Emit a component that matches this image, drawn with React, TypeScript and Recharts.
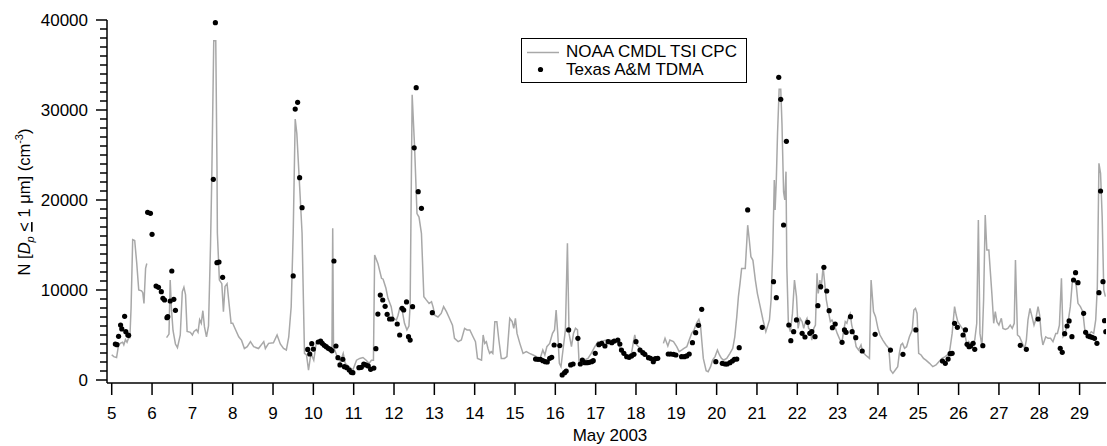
import React from "react";
import { ComposedChart, Line, Scatter, XAxis, YAxis } from "recharts";

const FONT = "'Liberation Sans', Arial, Helvetica, sans-serif";

// NOAA CMDL TSI CPC: [day of May 2003, N (cm^-3)] in three continuous segments
const cpcSeg1: number[][] = [
  [5.0, 2800], [5.05, 2600], [5.12, 2500], [5.17, 3900], [5.22, 4100], [5.27, 4200], [5.3, 3900],
  [5.34, 4500], [5.38, 4200], [5.42, 4700], [5.45, 4700], [5.48, 8000], [5.52, 15600], [5.57, 15500],
  [5.62, 13000], [5.67, 10000], [5.74, 9900], [5.77, 9700], [5.8, 8500], [5.84, 12400], [5.87, 12950],
];
const cpcSeg2: number[][] = [
  [6.36, 4700], [6.42, 5100], [6.45, 11100], [6.48, 8000], [6.52, 5500], [6.58, 4000], [6.63, 3600],
  [6.7, 5000], [6.75, 9800], [6.79, 10300], [6.83, 9500], [6.87, 5400], [6.95, 5300], [7.0, 5000],
  [7.04, 5400], [7.1, 5600], [7.14, 5300], [7.18, 6700], [7.22, 6300], [7.26, 7700], [7.3, 5900],
  [7.35, 4800], [7.4, 6000], [7.45, 15000], [7.48, 22200], [7.53, 37700], [7.58, 37700], [7.61, 23700],
  [7.62, 16300], [7.67, 11100], [7.73, 10700], [7.77, 7600], [7.81, 10400], [7.86, 10700], [7.9, 8900],
  [7.96, 6300], [8.0, 6300], [8.06, 5700], [8.15, 4800], [8.22, 4400], [8.29, 3500], [8.36, 3700],
  [8.44, 4260], [8.52, 3700], [8.64, 3500], [8.77, 4260], [8.81, 3500], [8.89, 4070], [9.01, 4140],
  [9.1, 5000], [9.18, 4000], [9.26, 3500], [9.33, 3330], [9.39, 4800], [9.45, 8140], [9.5, 16300],
  [9.55, 29000], [9.59, 27400], [9.66, 21500], [9.72, 16300], [9.78, 2960], [9.83, 2800], [9.88, 1100],
  [9.94, 2960], [10.01, 2200], [10.07, 4070], [10.13, 4260], [10.21, 4070], [10.3, 3700], [10.42, 3330],
  [10.46, 2960], [10.48, 16850], [10.5, 3700], [10.59, 2600], [10.67, 2040], [10.74, 2960], [10.79, 1850],
  [10.88, 1480], [10.98, 1100], [11.07, 2200], [11.15, 2400], [11.23, 2500], [11.31, 2200], [11.38, 1850],
  [11.44, 2200], [11.49, 2200], [11.52, 13900], [11.6, 12960], [11.69, 11300], [11.73, 11200], [11.8, 10190],
  [11.85, 9070], [11.93, 8150], [11.98, 6850], [12.06, 6670], [12.1, 7200], [12.14, 7960], [12.2, 7800],
  [12.26, 6300], [12.32, 5560], [12.37, 6000], [12.4, 8300], [12.45, 31700], [12.51, 25900], [12.57, 18500],
  [12.62, 18100], [12.68, 16300], [12.74, 9260], [12.8, 8900], [12.87, 8500], [12.93, 8700], [12.97, 8100],
  [13.01, 7200], [13.09, 7000], [13.17, 7400], [13.23, 8150], [13.3, 7600], [13.36, 7000], [13.45, 6100],
  [13.5, 4630], [13.59, 4260], [13.67, 4440], [13.75, 5740], [13.81, 5560], [13.88, 5560], [13.96, 4800],
  [14.02, 4260], [14.07, 2400], [14.17, 2200], [14.21, 5000], [14.25, 4070], [14.29, 4260], [14.33, 3500],
  [14.37, 2960], [14.41, 3150], [14.45, 2960], [14.5, 6480], [14.55, 6480], [14.6, 4440], [14.66, 2400],
  [14.74, 2400], [14.8, 2600], [14.87, 6850], [14.93, 6480], [14.97, 5740], [15.01, 6850], [15.05, 5180],
  [15.12, 4070], [15.2, 2960], [15.28, 3150], [15.36, 2960], [15.45, 2780], [15.53, 2600], [15.61, 2220],
  [15.69, 3330], [15.74, 2780], [15.79, 3700], [15.86, 4070], [15.93, 5180], [15.98, 5560], [16.02, 7780],
  [16.06, 5180], [16.1, 1850], [16.14, 1480], [16.19, 3330], [16.25, 5560], [16.3, 15190], [16.34, 5180],
  [16.4, 3700], [16.45, 5180], [16.5, 5740], [16.55, 5560], [16.59, 1850], [16.64, 2220], [16.73, 2220],
  [16.81, 2400], [16.89, 2960], [16.98, 3700], [17.06, 4260], [17.11, 4260], [17.27, 4440], [17.44, 4440],
  [17.56, 4070], [17.64, 3150], [17.77, 2600], [17.89, 2960], [17.93, 4070], [17.97, 5000], [18.02, 3890],
  [18.1, 3520], [18.18, 2960], [18.26, 2780], [18.35, 2600], [18.43, 2400], [18.51, 2400], [18.58, 2400],
];
const cpcSeg3: number[][] = [
  [18.68, 4070], [18.72, 4630], [18.79, 3780], [18.84, 4440], [18.93, 4260], [19.01, 3700], [19.07, 3150],
  [19.13, 3330], [19.19, 3520], [19.26, 3700], [19.32, 4440], [19.38, 5180], [19.44, 5560], [19.5, 6300],
  [19.56, 6740], [19.6, 6110], [19.63, 4440], [19.67, 2400], [19.74, 1040], [19.79, 930], [19.85, 1480],
  [19.9, 2220], [19.96, 2600], [20.02, 3330], [20.07, 2780], [20.12, 2400], [20.18, 2220], [20.25, 2400],
  [20.33, 2960], [20.4, 3520], [20.45, 4800], [20.5, 7040], [20.54, 9260], [20.58, 10740], [20.62, 12400],
  [20.66, 12400], [20.71, 12400], [20.75, 15560], [20.77, 17200], [20.81, 15560], [20.85, 13700], [20.9, 13300],
  [20.96, 11100], [21.01, 9630], [21.08, 8150], [21.15, 6670], [21.22, 5370], [21.26, 5930], [21.31, 6670],
  [21.35, 8890], [21.39, 14070], [21.43, 22220], [21.45, 18900], [21.48, 22220], [21.51, 27400], [21.55, 32300],
  [21.59, 32300], [21.62, 28500], [21.66, 20900], [21.69, 20000], [21.72, 23150], [21.74, 12600], [21.78, 6100],
  [21.83, 5370], [21.88, 7400], [21.93, 11100], [21.98, 9260], [22.02, 5740], [22.07, 6850], [22.12, 6480],
  [22.16, 5740], [22.2, 6480], [22.24, 6850], [22.28, 5740], [22.32, 5560], [22.36, 4440], [22.41, 5740],
  [22.45, 6100], [22.49, 11850], [22.52, 9630], [22.56, 11100], [22.59, 10000], [22.64, 12600], [22.68, 10740],
  [22.72, 8890], [22.78, 7400], [22.82, 6480], [22.86, 6670], [22.92, 6100], [22.99, 5180], [23.06, 4440],
  [23.11, 4260], [23.14, 5180], [23.19, 6480], [23.23, 6300], [23.27, 7040], [23.31, 7400], [23.35, 6100],
  [23.4, 5180], [23.46, 3700], [23.52, 3330], [23.58, 3890], [23.62, 3150], [23.69, 2780], [23.79, 2400],
  [23.83, 11100], [23.89, 7600], [23.94, 7040], [24.0, 5740], [24.05, 5000], [24.12, 4440], [24.2, 3890],
  [24.27, 3520], [24.31, 1110], [24.37, 740], [24.43, 1110], [24.49, 1480], [24.53, 2960], [24.57, 3900],
  [24.61, 4070], [24.66, 3520], [24.71, 3700], [24.78, 4800], [24.85, 5560], [24.89, 7780], [24.93, 7960],
  [24.97, 7400], [25.01, 2960], [25.07, 2780], [25.13, 2400], [25.19, 2200], [25.28, 1850], [25.36, 1480],
  [25.44, 1670], [25.51, 2040], [25.59, 2400], [25.67, 2600], [25.77, 2960], [25.84, 5180], [25.9, 8150],
  [25.94, 7220], [25.98, 6480], [26.06, 5930], [26.12, 5560], [26.17, 4800], [26.21, 3700], [26.25, 4260],
  [26.29, 4070], [26.35, 4070], [26.4, 4440], [26.45, 6300], [26.49, 17780], [26.53, 5180], [26.58, 3700],
  [26.62, 8890], [26.66, 18330], [26.7, 14440], [26.75, 14440], [26.79, 11850], [26.83, 9260], [26.87, 6300],
  [26.91, 7600], [26.95, 6480], [27.0, 6100], [27.06, 6850], [27.1, 5740], [27.16, 5630], [27.22, 5740],
  [27.28, 6100], [27.33, 5740], [27.38, 6300], [27.41, 13330], [27.46, 5000], [27.51, 4800], [27.58, 4070],
  [27.64, 3520], [27.68, 4440], [27.72, 6670], [27.77, 7960], [27.82, 7040], [27.87, 6100], [27.91, 6670],
  [27.97, 8150], [28.01, 7220], [28.05, 5000], [28.09, 3900], [28.16, 4800], [28.22, 4630], [28.28, 4630],
  [28.34, 4260], [28.41, 5180], [28.45, 5180], [28.5, 6100], [28.55, 11300], [28.59, 4800], [28.63, 5000],
  [28.67, 5740], [28.71, 6300], [28.77, 8150], [28.82, 10930], [28.88, 11100], [28.92, 10370], [28.96, 8520],
  [29.02, 8150], [29.08, 7600], [29.13, 5560], [29.17, 5180], [29.23, 5000], [29.29, 5370], [29.35, 5180],
  [29.4, 6670], [29.44, 10370], [29.48, 24070], [29.52, 22960], [29.56, 18150], [29.6, 10000], [29.64, 9260],
];

// Texas A&M TDMA: [day of May 2003, N (cm^-3)]
const tdmaPoints: number[][] = [
  [5.09, 4000], [5.13, 3930], [5.17, 4850], [5.22, 6110], [5.25, 5670], [5.32, 7070], [5.35, 5370],
  [5.4, 5000], [5.42, 4960], [5.89, 18630], [5.96, 18520], [6.0, 16190], [6.1, 10440], [6.16, 10300],
  [6.23, 9810], [6.27, 9070], [6.31, 8890], [6.37, 6930], [6.39, 7040], [6.45, 8780], [6.49, 12110],
  [6.54, 8960], [6.58, 7740], [7.52, 22300], [7.57, 39700], [7.61, 13040], [7.66, 13110], [7.75, 11410],
  [9.5, 11560], [9.55, 30100], [9.61, 30850], [9.66, 22480], [9.72, 19150], [9.86, 3400], [9.91, 2890],
  [9.96, 4040], [10.0, 3440], [10.12, 4220], [10.18, 4330], [10.22, 4070], [10.27, 3850], [10.32, 3700],
  [10.37, 3520], [10.42, 3410], [10.46, 3260], [10.51, 13220], [10.56, 3780], [10.61, 2480], [10.66, 1670],
  [10.73, 2300], [10.77, 1480], [10.83, 1370], [10.89, 1110], [10.94, 850], [10.98, 810], [11.13, 1370],
  [11.19, 1410], [11.25, 1780], [11.3, 1670], [11.36, 1560], [11.42, 1190], [11.5, 1330], [11.55, 3480],
  [11.6, 7330], [11.66, 9440], [11.72, 8890], [11.78, 8190], [11.83, 7300], [11.89, 6780], [11.95, 6780],
  [12.08, 6220], [12.14, 5000], [12.2, 7960], [12.24, 7780], [12.31, 8670], [12.36, 4810], [12.4, 4440],
  [12.46, 8150], [12.5, 25800], [12.55, 32480], [12.6, 20930], [12.68, 19070], [12.95, 7480],
  [15.51, 2330], [15.57, 2300], [15.63, 2300], [15.69, 2150], [15.75, 2040], [15.8, 2000], [15.86, 2410],
  [15.91, 2520], [15.97, 3890], [16.11, 3820], [16.17, 560], [16.23, 810], [16.27, 1000], [16.33, 5560],
  [16.38, 1670], [16.44, 1780], [16.56, 4630], [16.62, 1780], [16.67, 2220], [16.73, 1930], [16.79, 1930],
  [16.84, 1960], [16.9, 2040], [16.94, 2150], [16.99, 2960], [17.08, 3930], [17.15, 4070], [17.23, 3780],
  [17.31, 4260], [17.4, 4150], [17.46, 4330], [17.55, 4440], [17.6, 4000], [17.64, 3330], [17.7, 2960],
  [17.77, 2590], [17.83, 2520], [17.89, 2670], [17.95, 2850], [18.0, 4260], [18.1, 3330], [18.17, 3040],
  [18.22, 2850], [18.31, 2480], [18.36, 2410], [18.43, 2040], [18.48, 2370], [18.54, 2410], [18.8, 2890],
  [18.86, 2890], [18.93, 2850], [18.99, 2780], [19.13, 2590], [19.2, 2590], [19.26, 2670], [19.32, 2890],
  [19.4, 4150], [19.48, 5260], [19.55, 6070], [19.63, 7850], [19.98, 2040], [20.14, 1850], [20.21, 1780],
  [20.26, 1780], [20.33, 1930], [20.39, 2110], [20.44, 2300], [20.5, 2330], [20.56, 3590], [20.77, 18900],
  [21.13, 5850], [21.41, 10930], [21.48, 9150], [21.54, 33630], [21.59, 31190], [21.66, 17220], [21.73, 26520],
  [21.79, 6110], [21.84, 4370], [21.91, 5370], [21.98, 6670], [22.12, 5190], [22.19, 4780], [22.26, 6410],
  [22.31, 5190], [22.36, 5370], [22.44, 4810], [22.51, 8260], [22.58, 10370], [22.66, 12520], [22.73, 9890],
  [22.79, 7700], [22.87, 5810], [22.94, 6220], [23.11, 4190], [23.17, 5560], [23.21, 5300], [23.32, 7040],
  [23.36, 5370], [23.45, 4700], [23.61, 3220], [23.93, 5070], [24.31, 3330], [24.62, 2850], [24.94, 5560],
  [25.6, 2110], [25.67, 1850], [25.74, 2330], [25.79, 2930], [25.84, 2960], [25.9, 6300], [25.97, 5850],
  [26.11, 5000], [26.17, 5560], [26.21, 3960], [26.26, 3700], [26.3, 3780], [26.36, 4070], [26.4, 3410],
  [26.6, 3810], [27.53, 3850], [27.68, 3410], [27.97, 6780], [28.52, 3520], [28.57, 3070], [28.63, 5150],
  [28.69, 6000], [28.74, 6560], [28.81, 4810], [28.85, 11110], [28.9, 11930], [28.96, 10810], [29.1, 7410],
  [29.15, 5300], [29.21, 4890], [29.26, 4810], [29.31, 4740], [29.37, 4630], [29.43, 4070], [29.48, 9700],
  [29.52, 21000], [29.58, 10930], [29.62, 6590], [29.65, 5370],
];

const xTicks = [5, 6, 7, 8, 9, 10, 11, 12, 13, 14, 15, 16, 17, 18, 19, 20, 21, 22, 23, 24, 25, 26, 27, 28, 29];
const yMajorTicks = [0, 10000, 20000, 30000, 40000];
const yAllTicks = [
  0, 1000, 2000, 3000, 4000, 5000, 6000, 7000, 8000, 9000,
  10000, 11000, 12000, 13000, 14000, 15000, 16000, 17000, 18000, 19000,
  20000, 21000, 22000, 23000, 24000, 25000, 26000, 27000, 28000, 29000,
  30000, 31000, 32000, 33000, 34000, 35000, 36000, 37000, 38000, 39000, 40000,
];
const yDomain = [-333, 40000];
const xDomain = [4.883, 29.655];

const CPC_NAME = "NOAA CMDL TSI CPC";
const TDMA_NAME = "Texas A&M TDMA";
const X_TITLE = "May 2003";

const toRow = (p: number[]) => ({ t: p[0], c: p[1] });
const cpcData = [
  ...cpcSeg1.map(toRow),
  { t: 6.1, c: null },
  ...cpcSeg2.map(toRow),
  { t: 18.63, c: null },
  ...cpcSeg3.map(toRow),
];
const tdmaData = tdmaPoints.map((p) => ({ t: p[0], n: p[1] }));

const YTick = (props: any) => {
  const { x, y, payload } = props;
  const major = yMajorTicks.includes(payload.value);
  return (
    <g>
      <line x1={x - (major ? 11 : 7)} x2={x} y1={y} y2={y} stroke="#000" strokeWidth={1.5} />
      {major && (
        <text x={x - 19} y={y + 6} textAnchor="end" fontSize={17} fontFamily={FONT} fill="#000">
          {payload.value}
        </text>
      )}
    </g>
  );
};

const XTick = (props: any) => {
  const { x, y, payload } = props;
  return (
    <g>
      <line x1={x} x2={x} y1={y} y2={y + 12} stroke="#000" strokeWidth={1.5} />
      <text x={x} y={y + 36} textAnchor="middle" fontSize={17} fontFamily={FONT} fill="#000">
        {payload.value}
      </text>
    </g>
  );
};

const XTitle = () => (
  <text x={610} y={441} textAnchor="middle" fontSize={17} fontFamily={FONT} fill="#000">
    {X_TITLE}
  </text>
);

const YTitle = () => (
  <text transform="translate(30,202) rotate(-90)" textAnchor="middle" fontSize={16.5} fontFamily={FONT} fill="#000">
    {"N ["}
    <tspan fontStyle="italic">D</tspan>
    <tspan fontStyle="italic" fontSize={11} dy={4}>p</tspan>
    <tspan dy={-4}>{" "}</tspan>
    <tspan style={{ textDecoration: "underline" }}>{"<"}</tspan>
    <tspan>{" 1 μm] (cm"}</tspan>
    <tspan fontSize={11} dy={-7}>-3</tspan>
    <tspan dy={7}>{")"}</tspan>
  </text>
);

const Dot = (props: any) => {
  const { cx, cy } = props;
  if (cx == null || cy == null) return null;
  return <circle cx={cx} cy={cy} r={2.6} fill="#000" />;
};

export default function App() {
  return (
    <div style={{ position: "absolute", left: 0, top: 0, width: 1107, height: 446, background: "#fff" }}>
      <ComposedChart width={1107} height={446} margin={{ top: 20, right: 1, bottom: 0, left: 0 }}>
        <XAxis
          type="number"
          dataKey="t"
          domain={xDomain}
          allowDataOverflow
          ticks={xTicks}
          interval={0}
          tickSize={0}
          tickMargin={0}
          tickLine={false}
          tick={<XTick />}
          height={63}
          axisLine={{ stroke: "#000", strokeWidth: 1.5 }}
          label={<XTitle />}
        />
        <YAxis
          type="number"
          domain={yDomain}
          allowDataOverflow
          ticks={yAllTicks}
          interval={0}
          tickSize={0}
          tickMargin={0}
          tickLine={false}
          tick={<YTick />}
          width={107}
          axisLine={{ stroke: "#000", strokeWidth: 1.5 }}
          label={<YTitle />}
        />
        <Line
          data={cpcData}
          dataKey="c"
          name={CPC_NAME}
          type="linear"
          stroke="#a8a8a8"
          strokeWidth={1.5}
          dot={false}
          activeDot={false}
          connectNulls={false}
          isAnimationActive={false}
        />
        <Scatter
          data={tdmaData}
          dataKey="n"
          name={TDMA_NAME}
          fill="#000"
          shape={<Dot />}
          isAnimationActive={false}
        />
      </ComposedChart>
      <div
        style={{
          position: "absolute",
          left: 521,
          top: 38,
          width: 226,
          height: 45,
          boxSizing: "border-box",
          border: "1.5px solid #000",
          background: "#fff",
          fontFamily: FONT,
          fontSize: 17,
          color: "#000",
        }}
      >
        <svg width={40} height={42} style={{ position: "absolute", left: 0, top: 0 }}>
          <line x1={5} x2={37} y1={13.5} y2={13.5} stroke="#a8a8a8" strokeWidth={1.5} />
          <circle cx={18.5} cy={30.5} r={2.6} fill="#000" />
        </svg>
        <div style={{ position: "absolute", left: 44, top: 3, lineHeight: "20px", whiteSpace: "nowrap" }}>{CPC_NAME}</div>
        <div style={{ position: "absolute", left: 44, top: 21, lineHeight: "20px", whiteSpace: "nowrap" }}>{TDMA_NAME}</div>
      </div>
    </div>
  );
}
